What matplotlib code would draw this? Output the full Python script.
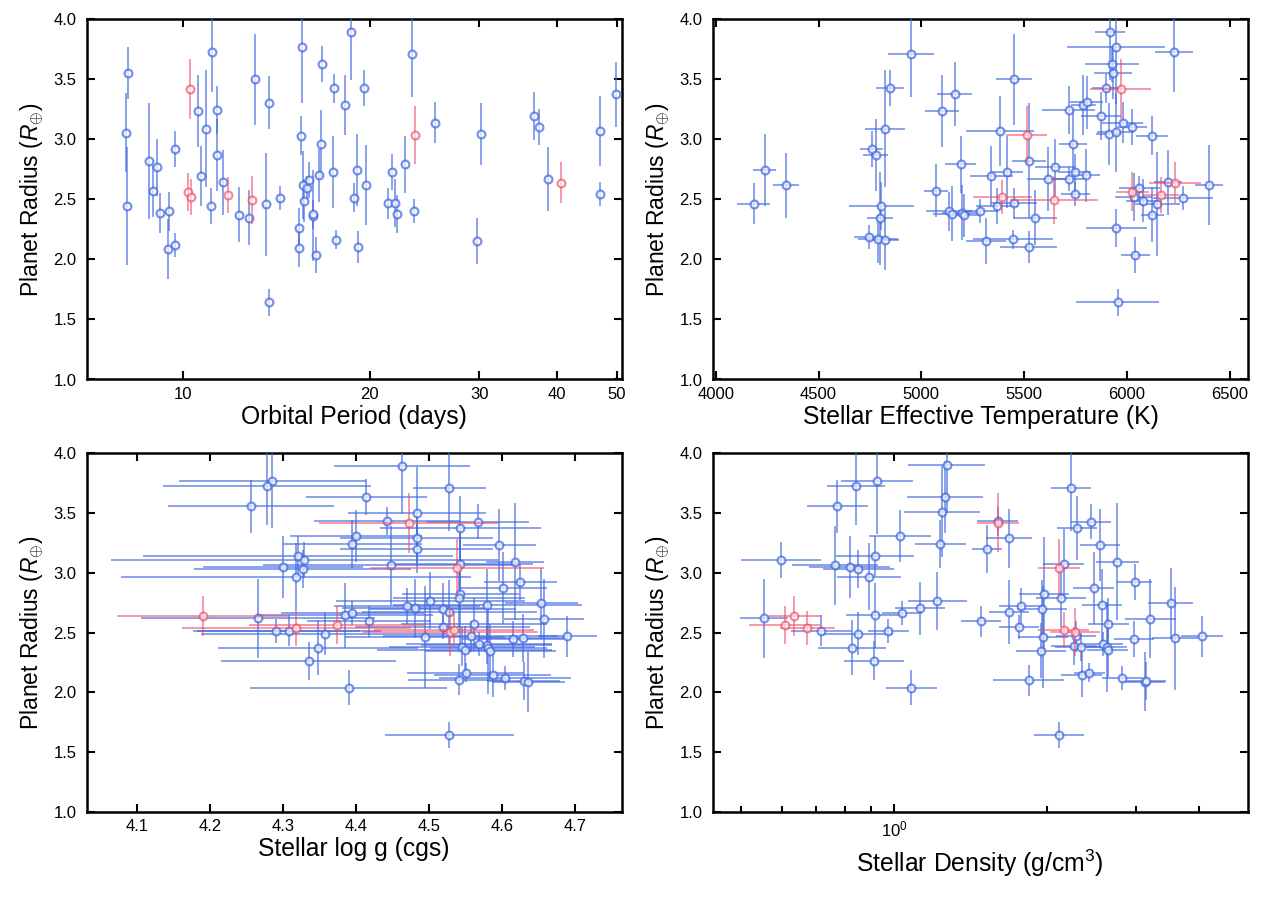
import numpy as np
import matplotlib
matplotlib.use('Agg')
import matplotlib.pyplot as plt
from matplotlib.ticker import FixedLocator, NullLocator, FormatStrFormatter, LogLocator, NullFormatter

plt.rcParams['font.family'] = ['Liberation Sans', 'DejaVu Sans']
plt.rcParams['mathtext.fontset'] = 'custom'
plt.rcParams['mathtext.rm'] = 'Liberation Sans'
plt.rcParams['mathtext.it'] = 'Liberation Sans:italic'

# ---------------- Panel 1: orbital period ----------------
p1_period = [8.17, 8.10, 8.12, 8.83, 8.96, 9.10, 9.17, 9.49, 9.46, 9.71, 9.71,
             10.26, 10.20, 10.30, 10.59, 11.16, 10.88, 10.70, 11.34, 11.36, 11.11,
             11.61, 11.84, 12.30, 12.77, 12.93, 13.07, 13.60, 13.75, 13.78, 14.36,
             15.51, 15.56, 15.40, 15.36, 15.63, 15.69, 15.83, 15.95, 16.18, 16.22,
             16.36, 16.55, 16.67, 16.76, 17.49, 17.47, 17.62, 18.26, 18.67, 18.83,
             19.09, 19.16, 19.54, 19.74, 23.43, 23.66, 21.36, 21.73, 21.92, 22.16,
             22.80, 23.52, 25.49, 30.17, 29.80, 36.78, 37.41, 38.72, 40.62, 46.88,
             46.88, 49.86]
p1_radius = [3.554, 3.057, 2.448, 2.821, 2.571, 2.768, 2.388, 2.400, 2.085, 2.118, 2.923,
             3.418, 2.563, 2.518, 3.235, 3.727, 3.090, 2.696, 3.243, 2.871, 2.448,
             2.643, 2.537, 2.373, 2.348, 2.498, 3.500, 2.460, 3.307, 1.643, 2.515,
             3.032, 3.771, 2.265, 2.096, 2.621, 2.490, 2.593, 2.665, 2.365, 2.377,
             2.037, 2.700, 2.962, 3.629, 3.427, 2.729, 2.165, 3.285, 3.896, 2.515,
             2.743, 2.104, 3.429, 2.621, 3.710, 3.037, 2.468, 2.727, 2.468, 2.379,
             2.793, 2.407, 3.140, 3.048, 2.152, 3.196, 3.107, 2.671, 2.640, 3.071,
             2.543, 3.377]
p1_rerr = [0.22, 0.33, 0.49, 0.48, 0.22, 0.24, 0.17, 0.16, 0.25, 0.10, 0.15,
           0.25, 0.16, 0.15, 0.30, 0.33, 0.49, 0.25, 0.20, 0.30, 0.15,
           0.27, 0.15, 0.23, 0.23, 0.20, 0.38, 0.43, 0.22, 0.11, 0.10,
           0.16, 0.47, 0.16, 0.16, 0.28, 0.18, 0.10, 0.15, 0.38, 0.12,
           0.15, 0.22, 0.28, 0.15, 0.12, 0.30, 0.08, 0.25, 0.40, 0.12,
           0.30, 0.13, 0.15, 0.33, 0.36, 0.24, 0.13, 0.15, 0.20, 0.16,
           0.24, 0.10, 0.17, 0.26, 0.19, 0.20, 0.15, 0.27, 0.17, 0.29,
           0.10, 0.27]
p1_flag = [0, 0, 0, 0, 0, 0, 0, 0, 0, 0, 0,
           1, 1, 1, 0, 0, 0, 0, 0, 0, 0,
           0, 1, 0, 0, 1, 0, 0, 0, 0, 0,
           0, 0, 0, 0, 0, 0, 0, 0, 0, 0,
           0, 0, 0, 0, 0, 0, 0, 0, 0, 0,
           0, 0, 0, 0, 0, 1, 0, 0, 0, 0,
           0, 0, 0, 0, 0, 0, 0, 0, 1, 0,
           0, 0]

# ---------------- Panel 2: effective temperature ----------------
p2_teff = [4185, 4237, 4342, 4744, 4788, 4825, 4797, 4805, 4758, 4779, 4823, 4849,
           4950, 5071, 5099, 5162, 5191, 5134, 5147, 5197, 5207, 5283,
           5314, 5340, 5368, 5394, 5382, 5418, 5450, 5446, 5450, 5512, 5522, 5522,
           5554, 5614, 5643, 5650, 5716, 5737, 5718, 5745, 5749, 5802, 5788, 5804,
           5873, 5899, 5969, 5917, 5946, 5927, 5932, 5911, 5946, 5979, 6023, 6123,
           6228, 5948, 5954, 6040, 6026, 6060, 6032, 6076, 6165, 6147, 6124, 6199,
           6233, 6274, 6400]
p2_terr = [81, 58, 62, 71, 97, 67, 63, 159, 55, 61, 96, 68,
           110, 59, 83, 85, 75, 110, 90, 95, 80, 90,
           96, 105, 100, 142, 165, 77, 89, 194, 110, 99, 83, 138,
           105, 100, 214, 97, 130, 70, 80, 80, 69, 65, 60, 80,
           99, 70, 150, 75, 237, 129, 91, 60, 90, 99, 73, 77,
           91, 148, 203, 70, 80, 100, 90, 80, 90, 110, 55, 70,
           126, 146, 69]
p2_radius = [2.465, 2.746, 2.618, 2.190, 2.170, 2.160, 2.343, 2.448, 2.923, 2.871, 3.090, 3.429,
             3.710, 2.573, 3.237, 3.379, 2.793, 2.400, 2.380, 2.390, 2.368, 2.404,
             2.152, 2.696, 2.448, 2.521, 3.071, 2.727, 3.500, 2.168, 2.468, 3.037, 2.823, 2.104,
             2.348, 2.671, 2.498, 2.768, 3.243, 2.965, 2.671, 2.727, 2.543, 2.700, 3.288, 3.310,
             3.196, 3.427, 3.418, 3.893, 3.768, 3.629, 3.557, 3.046, 3.060, 3.140, 3.107, 3.032,
             3.727, 2.263, 1.643, 2.040, 2.565, 2.598, 2.518, 2.490, 2.537, 2.462, 2.373, 2.643,
             2.640, 2.515, 2.621]
p2_rerr = [0.17, 0.30, 0.27, 0.10, 0.20, 0.25, 0.39, 0.20, 0.15, 0.30, 0.49, 0.15,
           0.36, 0.22, 0.30, 0.27, 0.24, 0.16, 0.23, 0.23, 0.18, 0.10,
           0.19, 0.25, 0.15, 0.14, 0.29, 0.30, 0.38, 0.08, 0.13, 0.24, 0.48, 0.13,
           0.23, 0.27, 0.20, 0.24, 0.20, 0.28, 0.10, 0.15, 0.10, 0.22, 0.25, 0.22,
           0.20, 0.12, 0.25, 0.40, 0.47, 0.15, 0.22, 0.26, 0.33, 0.17, 0.15, 0.16,
           0.33, 0.16, 0.11, 0.15, 0.16, 0.10, 0.20, 0.18, 0.15, 0.43, 0.23, 0.27,
           0.17, 0.10, 0.33]
p2_flag = [0, 0, 0, 0, 0, 0, 0, 0, 0, 0, 0, 0,
           0, 0, 0, 0, 0, 0, 0, 0, 0, 0,
           0, 0, 0, 1, 0, 0, 0, 0, 0, 1, 0, 0,
           0, 0, 1, 0, 0, 0, 0, 0, 0, 0, 0, 0,
           0, 0, 1, 0, 0, 0, 0, 0, 0, 0, 0, 0,
           0, 0, 0, 0, 1, 0, 0, 0, 1, 0, 0, 0,
           1, 0, 0]

# ---------------- Panel 3: log g ----------------
p3_logg = [4.285, 4.278, 4.256, 4.414, 4.400, 4.395, 4.3205, 4.329, 4.300, 4.327, 4.318,
           4.190, 4.266, 4.291, 4.308, 4.318, 4.357, 4.348, 4.335, 4.390, 4.374, 4.385,
           4.395, 4.418,
           4.4626, 4.528, 4.4836, 4.443, 4.472, 4.567, 4.543, 4.483, 4.483, 4.596, 4.618,
           4.4475, 4.538, 4.543, 4.625, 4.602, 4.543, 4.541, 4.502, 4.470, 4.481, 4.519,
           4.528, 4.580, 4.654, 4.658, 4.561, 4.519, 4.529, 4.534, 4.4945, 4.557, 4.615,
           4.629, 4.6896, 4.545, 4.549, 4.568, 4.579, 4.581, 4.584, 4.550, 4.541, 4.587,
           4.604, 4.630, 4.636, 4.528]
p3_gerr = [0.128, 0.143, 0.114, 0.083, 0.090, 0.095, 0.213, 0.265, 0.110, 0.149, 0.240,
           0.118, 0.160, 0.115, 0.126, 0.157, 0.170, 0.137, 0.120, 0.135, 0.120, 0.120,
           0.098, 0.085,
           0.093, 0.050, 0.095, 0.100, 0.123, 0.070, 0.110, 0.105, 0.105, 0.050, 0.040,
           0.175, 0.119, 0.100, 0.050, 0.060, 0.080, 0.090, 0.129, 0.100, 0.100, 0.100,
           0.120, 0.130, 0.050, 0.055, 0.100, 0.120, 0.120, 0.110, 0.110, 0.120, 0.070,
           0.060, 0.040, 0.100, 0.120, 0.100, 0.090, 0.080, 0.090, 0.080, 0.070, 0.080,
           0.090, 0.050, 0.050, 0.088]
p3_radius = [3.771, 3.727, 3.557, 3.632, 3.309, 3.242, 3.139, 3.109, 3.048, 3.034, 2.966,
             2.638, 2.618, 2.515, 2.515, 2.541, 2.490, 2.373, 2.262, 2.039, 2.563, 2.643,
             2.666, 2.593,
             3.896, 3.713, 3.504, 3.432, 3.418, 3.429, 3.376, 3.290, 3.198, 3.234, 3.092,
             3.061, 3.042, 3.073, 2.925, 2.872, 2.822, 2.789, 2.766, 2.724, 2.702, 2.693,
             2.671, 2.730, 2.744, 2.616, 2.572, 2.543, 2.505, 2.521, 2.462, 2.467, 2.449,
             2.455, 2.467, 2.382, 2.351, 2.404, 2.396, 2.368, 2.343, 2.165, 2.104, 2.148,
             2.117, 2.095, 2.083, 1.644]
p3_rerr = [0.40, 0.33, 0.22, 0.15, 0.22, 0.20, 0.17, 0.15, 0.26, 0.16, 0.28,
           0.17, 0.33, 0.10, 0.13, 0.15, 0.18, 0.23, 0.16, 0.15, 0.16, 0.27,
           0.10, 0.13,
           0.40, 0.36, 0.38, 0.12, 0.25, 0.15, 0.27, 0.22, 0.20, 0.30, 0.49,
           0.33, 0.24, 0.29, 0.15, 0.30, 0.48, 0.24, 0.24, 0.15, 0.25, 0.22,
           0.27, 0.30, 0.30, 0.33, 0.22, 0.10, 0.20, 0.14, 0.43, 0.13, 0.15,
           0.20, 0.17, 0.16, 0.20, 0.10, 0.16, 0.38, 0.23, 0.08, 0.13, 0.19,
           0.10, 0.16, 0.25, 0.11]
p3_flag = [0, 0, 0, 0, 0, 0, 0, 0, 0, 0, 0,
           1, 0, 0, 0, 1, 0, 0, 0, 0, 1, 0,
           0, 0,
           0, 0, 0, 0, 1, 0, 0, 0, 0, 0, 0,
           0, 1, 0, 0, 0, 0, 0, 0, 0, 0, 0,
           0, 0, 0, 0, 0, 0, 1, 1, 0, 0, 0,
           0, 0, 0, 0, 0, 0, 0, 0, 0, 0, 0,
           0, 0, 0, 0]

# ---------------- Panel 4: stellar density ----------------
p4_rho = [1.270, 0.926, 0.841, 0.773, 1.262, 1.245, 1.026, 1.234, 0.917, 0.599, 0.764,
          0.818, 0.850, 0.893, 0.554, 0.608, 0.636, 0.674, 0.718, 0.826, 0.847, 0.913,
          0.917, 0.974, 1.036, 1.124, 1.217, 1.082, 1.484,
          1.526, 1.604, 1.600, 1.684, 1.686, 1.783, 1.762, 1.841, 1.956, 1.976, 1.965,
          1.947, 2.116, 2.133, 2.158, 2.113, 2.158, 2.272, 2.231, 2.293, 2.447, 2.549,
          2.757, 2.979, 2.473, 2.569, 2.644, 2.283, 2.262, 2.334, 2.580, 2.628, 2.635,
          2.342, 2.428, 2.817, 3.117, 3.140, 2.970, 3.198, 3.508, 3.578, 4.045]
p4_dex = [0.076, 0.071, 0.058, 0.060, 0.075, 0.075, 0.061, 0.051, 0.076, 0.079, 0.085,
          0.080, 0.070, 0.063, 0.047, 0.070, 0.053, 0.054, 0.060, 0.067, 0.070, 0.060,
          0.057, 0.040, 0.040, 0.050, 0.058, 0.050, 0.040,
          0.030, 0.042, 0.040, 0.045, 0.040, 0.045, 0.040, 0.070, 0.050, 0.050, 0.050,
          0.050, 0.049, 0.050, 0.040, 0.041, 0.050, 0.050, 0.040, 0.040, 0.040, 0.040,
          0.043, 0.035, 0.040, 0.040, 0.040, 0.040, 0.045, 0.050, 0.040, 0.040, 0.040,
          0.040, 0.030, 0.040, 0.040, 0.040, 0.040, 0.050, 0.044, 0.045, 0.042]
p4_radius = [3.900, 3.771, 3.729, 3.557, 3.632, 3.510, 3.309, 3.242, 3.139, 3.109, 3.061,
             3.048, 3.034, 2.966, 2.618, 2.563, 2.638, 2.538, 2.515, 2.373, 2.490, 2.265,
             2.643, 2.515, 2.663, 2.702, 2.764, 2.039, 2.593,
             3.198, 3.420, 3.430, 3.287, 2.671, 2.724, 2.543, 2.100, 2.693, 2.822, 2.462,
             2.348, 1.644, 2.790, 3.073, 3.042, 2.521, 2.501, 3.713, 3.376, 3.429, 3.234,
             3.092, 2.925, 2.872, 2.730, 2.572, 2.467, 2.388, 2.379, 2.407, 2.379, 2.354,
             2.148, 2.165, 2.120, 2.089, 2.095, 2.449, 2.616, 2.744, 2.451, 2.467]
p4_rerr = [0.40, 0.45, 0.33, 0.22, 0.30, 0.38, 0.22, 0.20, 0.17, 0.15, 0.33,
           0.26, 0.16, 0.28, 0.33, 0.16, 0.17, 0.14, 0.13, 0.23, 0.18, 0.16,
           0.27, 0.10, 0.10, 0.22, 0.24, 0.15, 0.13,
           0.20, 0.25, 0.12, 0.25, 0.27, 0.15, 0.10, 0.13, 0.25, 0.48, 0.43,
           0.23, 0.11, 0.24, 0.29, 0.24, 0.15, 0.20, 0.36, 0.27, 0.15, 0.30,
           0.49, 0.15, 0.30, 0.30, 0.22, 0.13, 0.16, 0.12, 0.10, 0.38, 0.23,
           0.19, 0.08, 0.10, 0.25, 0.16, 0.15, 0.33, 0.30, 0.43, 0.17]
p4_flag = [0, 0, 0, 0, 0, 0, 0, 0, 0, 0, 0,
           0, 0, 0, 0, 1, 1, 1, 0, 0, 0, 0,
           0, 0, 0, 0, 0, 0, 0,
           0, 1, 0, 0, 0, 0, 0, 0, 0, 0, 0,
           0, 0, 0, 0, 1, 1, 1, 0, 0, 0, 0,
           0, 0, 0, 0, 0, 0, 0, 0, 0, 0, 0,
           0, 0, 0, 0, 0, 0, 0, 0, 0, 0]

BLUE = '#4169E1'
RED = '#EE4A64'

fig = plt.figure(figsize=(12.68, 9.05), dpi=100)
W, H = 1268.0, 905.0


def make_ax(x0, x1, y0, y1):
    return fig.add_axes([x0 / W, 1 - y1 / H, (x1 - x0) / W, (y1 - y0) / H])


ax1 = make_ax(86.7, 621.7, 19.5, 379.5)
ax2 = make_ax(712.7, 1248.3, 19.5, 379.5)
ax3 = make_ax(86.7, 621.7, 453.3, 811.7)
ax4 = make_ax(712.7, 1247.7, 453.3, 811.7)


def draw(ax, x, y, yerr, flag, xerr=None):
    x = np.asarray(x, float)
    y = np.asarray(y, float)
    yerr = np.asarray(yerr, float)
    flag = np.asarray(flag)
    for f, col, a in [(0, BLUE, 0.72), (1, RED, 0.65)]:
        m = flag == f
        xe = None
        if xerr is not None:
            xe = np.asarray(xerr, float)
            xe = xe[..., m]
        ax.errorbar(x[m], y[m], yerr=yerr[m], xerr=xe, fmt='o', color=col,
                    mfc='white', mec=col, ms=5.6, mew=1.6, elinewidth=1.2,
                    capsize=0, alpha=a, zorder=3 + f)


draw(ax1, p1_period, p1_radius, p1_rerr, p1_flag)
draw(ax2, p2_teff, p2_radius, p2_rerr, p2_flag, xerr=p2_terr)
draw(ax3, p3_logg, p3_radius, p3_rerr, p3_flag, xerr=p3_gerr)
rho = np.asarray(p4_rho)
dex = np.asarray(p4_dex)
rho_err = np.vstack([rho * (1 - 10 ** (-dex)), rho * (10 ** dex - 1)])
draw(ax4, p4_rho, p4_radius, p4_rerr, p4_flag, xerr=rho_err)

ylab = r'Planet Radius ($R_{\oplus}$)'
XL = 17.8
for ax in (ax1, ax2, ax3, ax4):
    ax.set_ylim(1.0, 4.0)
    ax.yaxis.set_major_locator(FixedLocator([1.0, 1.5, 2.0, 2.5, 3.0, 3.5, 4.0]))
    ax.yaxis.set_major_formatter(FormatStrFormatter('%.1f'))
    ax.set_ylabel(ylab, fontsize=16.5, labelpad=5)
    ax.tick_params(which='both', direction='in', top=True, right=True,
                   labelsize=12, width=1.5)
    ax.tick_params(which='major', length=6)
    ax.tick_params(which='minor', length=4)
    ax.tick_params(axis='y', pad=7.5)
    ax.tick_params(axis='x', pad=5.5)
    for s in ax.spines.values():
        s.set_linewidth(1.8)

ax1.set_xscale('log')
ax1.set_xlim(7.0, 50.9)
ax1.xaxis.set_major_locator(FixedLocator([10, 20, 30, 40, 50]))
ax1.xaxis.set_major_formatter(FormatStrFormatter('%d'))
ax1.xaxis.set_minor_locator(NullLocator())
ax1.set_xlabel('Orbital Period (days)', fontsize=XL, labelpad=2)

ax2.set_xlim(3985, 6590)
ax2.xaxis.set_major_locator(FixedLocator([4000, 4500, 5000, 5500, 6000, 6500]))
ax2.set_xlabel('Stellar Effective Temperature (K)', fontsize=XL, labelpad=2)

ax3.set_xlim(4.031, 4.764)
ax3.xaxis.set_major_locator(FixedLocator([4.1, 4.2, 4.3, 4.4, 4.5, 4.6, 4.7]))
ax3.xaxis.set_major_formatter(FormatStrFormatter('%.1f'))
ax3.set_xlabel('Stellar log g (cgs)', fontsize=XL, labelpad=2)

ax4.set_xscale('log')
ax4.set_xlim(0.4388, 4.98)
ax4.xaxis.set_major_locator(LogLocator(base=10, numticks=10))
ax4.xaxis.set_minor_locator(LogLocator(base=10, subs=np.arange(2, 10), numticks=20))
ax4.xaxis.set_minor_formatter(NullFormatter())
ax4.tick_params(which='minor', top=False)
ax4.set_xlabel(r'Stellar Density (g/cm$^3$)', fontsize=XL, labelpad=6)

fig.savefig('out.png', dpi=100)
